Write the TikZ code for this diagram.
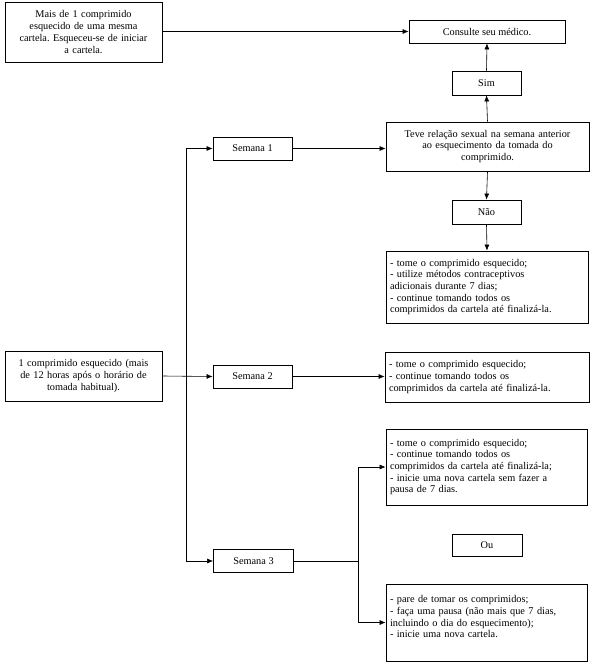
\documentclass[tikz,border=0pt]{standalone}
\usepackage{fontspec}
\setmainfont{Liberation Serif}
\usepackage{xcolor}
\usepackage{tikz}
\usetikzlibrary{positioning, arrows.meta, calc}
\frenchspacing

\begin{document}
\begin{tikzpicture}[x=1pt, y=-1pt,
    box/.style={draw, line width=0.8pt, inner xsep=4pt, inner ysep=2pt, font=\fontsize{10.3}{11.7}\selectfont, align=center},
    listbox/.style={box, align=left},
    arr/.style={-{Latex[length=6pt, width=5pt]}, line width=0.6pt},
    link/.style={line width=0.6pt},
]

\useasboundingbox (0,0) rectangle (593,668);

\node[box, minimum width=157, minimum height=60, text width=149] (mais) at (83.5, 32) {Mais de 1 comprimido\\ esquecido de uma mesma\\ cartela. Esqueceu-se de iniciar\\ a cartela.};
\node[box, minimum width=156, minimum height=23] (medico) at (487, 31.5) {Consulte seu médico.};
\node[box, minimum width=69, minimum height=24] (sim) at (486.5, 83) {Sim};
\node[box, minimum width=203, minimum height=49, text width=195] (relacao) at (487.5, 146.5) {Teve relação sexual na semana anterior\\ ao esquecimento da tomada do\\ comprimido.};
\node[box, minimum width=69, minimum height=24] (nao) at (486.5, 212) {Não};
\node[listbox, minimum width=202, minimum height=72, text width=194] (resnao) at (487, 287) {- tome o comprimido esquecido;\\ - utilize métodos contraceptivos\\ adicionais durante 7 dias;\\ - continue tomando todos os\\ comprimidos da cartela até finalizá-la.};

\node[box, minimum width=157, minimum height=50, text width=149] (um) at (83.5, 376) {1 comprimido esquecido (mais\\ de 12 horas após o horário de\\ tomada habitual).};
\node[box, minimum width=79, minimum height=23] (sem1) at (252.5, 148.5) {Semana 1};
\node[box, minimum width=79, minimum height=23] (sem2) at (252.5, 376.5) {Semana 2};
\node[box, minimum width=80, minimum height=23] (sem3) at (253.5, 561) {Semana 3};

\node[listbox, minimum width=204, minimum height=50, text width=196] (res2) at (487, 377) {- tome o comprimido esquecido;\\ - continue tomando todos os\\ comprimidos da cartela até finalizá-la.};
\node[listbox, minimum width=201, minimum height=76, text width=193] (res3a) at (486.5, 467) {- tome o comprimido esquecido;\\ - continue tomando todos os\\ comprimidos da cartela até finalizá-la;\\ - inicie uma nova cartela sem fazer a\\ pausa de 7 dias.};
\node[box, minimum width=70, minimum height=22] (ou) at (487, 545) {Ou};
\node[listbox, minimum width=201, minimum height=77, text width=193] (res3b) at (486.5, 622.5) {- pare de tomar os comprimidos;\\ - faça uma pausa (não mais que 7 dias,\\ incluindo o dia do esquecimento);\\ - inicie uma nova cartela.\\ \mbox{}};

\coordinate (tronco) at (186, 376.5);
\coordinate (garfo) at (358, 561);

\draw[arr] (mais.east |- medico.west) -- (medico.west);
\draw[arr] (relacao.north) -- (sim.south);
\draw[arr] (sim.north) -- (medico.south);
\draw[arr] (relacao.south) -- (nao.north);
\draw[arr] (nao.south) -- (resnao.north);

\draw[arr] (um.east) -- (sem2.west);
\draw[arr] (tronco) |- (sem1.west);
\draw[arr] (tronco) |- (sem3.west);
\draw[arr] (sem1.east) -- (sem1.east -| relacao.west);
\draw[arr] (sem2.east) -- (sem2.east -| res2.west);
\draw[link] (sem3.east) -- (garfo);
\draw[arr] (garfo) |- (res3a.west);
\draw[arr] (garfo) |- (res3b.west);

\end{tikzpicture}
\end{document}
